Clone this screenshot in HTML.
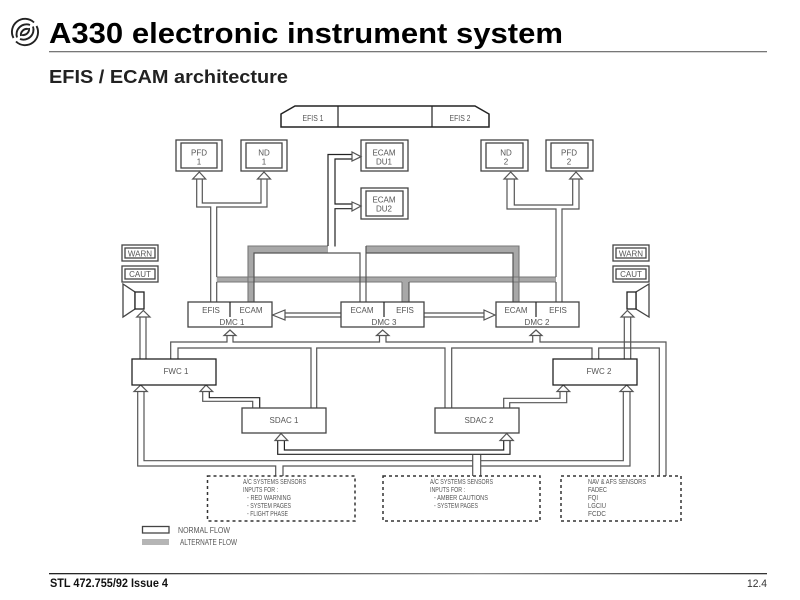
<!DOCTYPE html>
<html><head><meta charset="utf-8"><title>A330 electronic instrument system</title>
<style>
html,body{margin:0;padding:0;background:#fff;width:800px;height:600px;overflow:hidden}
svg{display:block;filter:blur(0.35px)}
text{font-family:"Liberation Sans",sans-serif}
.l{fill:none;stroke:#555;stroke-width:1.2}
.k{fill:none;stroke:#222;stroke-width:1.2}
.e{fill:none;stroke:#777;stroke-width:1.1}
.b{fill:#fff;stroke:#444;stroke-width:1.3}
.h{fill:#fff;stroke:#555;stroke-width:1.2}
.t{font-size:8px;fill:#555;text-anchor:middle}
.s{font-size:7px;fill:#555}
</style></head><body>
<svg width="800" height="600" viewBox="0 0 800 600" xmlns="http://www.w3.org/2000/svg">
<defs><linearGradient id="g" x1="0" x2="1" y1="0" y2="0"><stop offset="0" stop-color="#222"/><stop offset="0.6" stop-color="#888"/><stop offset="1" stop-color="#333"/></linearGradient></defs>

<!-- logo -->
<g fill="none" stroke="#222" stroke-width="1.900">
<path d="M13.500 38A13 13 0 0 1 34 22.500"/>
<path d="M17 37.500A10 10 0 0 1 30 25"/>
<path d="M21 36A6 6 0 0 1 28 29"/>
<path d="M36.500 26A13 13 0 0 1 16 41.500"/>
<path d="M33 26.500A10 10 0 0 1 20 39"/>
<path d="M29 28A6 6 0 0 1 22 35"/>
</g>
<text x="49" y="43" font-size="29" font-weight="bold" fill="#000" textLength="514" lengthAdjust="spacingAndGlyphs">A330 electronic instrument system</text>
<rect x="49" y="51" width="718" height="1.300" fill="#777"/>
<text x="49" y="83" font-size="18" font-weight="bold" fill="#222" textLength="239" lengthAdjust="spacingAndGlyphs">EFIS / ECAM architecture</text>
<rect x="49" y="573" width="718" height="1.300" fill="url(#g)"/>
<text x="50" y="587" font-size="12" font-weight="bold" fill="#111" textLength="118" lengthAdjust="spacingAndGlyphs">STL 472.755/92 Issue 4</text>
<text x="747" y="587" font-size="11" fill="#333" textLength="20" lengthAdjust="spacingAndGlyphs">12.4</text>

<!-- EFIS panel -->
<path d="M281 114L295 106H475L489 114V127H281Z" fill="#fff" stroke="#222" stroke-width="1.500"/>
<path d="M338 106V127M432 106V127" class="k"/>
<text class="t" x="313" y="121" textLength="21" lengthAdjust="spacingAndGlyphs">EFIS 1</text>
<text class="t" x="460" y="121" textLength="21" lengthAdjust="spacingAndGlyphs">EFIS 2</text>

<!-- displays -->
<g class="b">
<rect x="176" y="140" width="46" height="31"/><rect x="181" y="143" width="36" height="25"/>
<rect x="241" y="140" width="46" height="31"/><rect x="246" y="143" width="36" height="25"/>
<rect x="361" y="140" width="47" height="31"/><rect x="366" y="143" width="37" height="25"/>
<rect x="361" y="188" width="47" height="31"/><rect x="366" y="191" width="37" height="25"/>
<rect x="481" y="140" width="47" height="31"/><rect x="486" y="143" width="37" height="25"/>
<rect x="546" y="140" width="47" height="31"/><rect x="551" y="143" width="37" height="25"/>
<rect x="122" y="245" width="36" height="16"/><rect x="125" y="248" width="30" height="10"/>
<rect x="122" y="266" width="36" height="16"/><rect x="125" y="269" width="30" height="10"/>
<rect x="613" y="245" width="36" height="16"/><rect x="616" y="248" width="30" height="10"/>
<rect x="613" y="266" width="36" height="16"/><rect x="616" y="269" width="30" height="10"/>
</g>
<g class="t">
<text x="199" y="155.500">PFD</text><text x="199" y="164.500">1</text>
<text x="264" y="155.500">ND</text><text x="264" y="164.500">1</text>
<text x="384" y="155.500">ECAM</text><text x="384" y="164.500">DU1</text>
<text x="384" y="202.500">ECAM</text><text x="384" y="211.500">DU2</text>
<text x="506" y="155.500">ND</text><text x="506" y="164.500">2</text>
<text x="569" y="155.500">PFD</text><text x="569" y="164.500">2</text>
<text x="140" y="256.500">WARN</text><text x="140" y="277">CAUT</text>
<text x="631" y="256.500">WARN</text><text x="631" y="277">CAUT</text>
</g>

<!-- speakers -->
<path d="M123 284L135 292V309L123 317Z" class="b"/>
<rect x="135" y="292" width="9" height="17" fill="#fff" stroke="#222" stroke-width="1.300"/>
<path d="M649 284L636 292V309L649 317Z" class="b"/>
<rect x="627" y="292" width="9" height="17" fill="#fff" stroke="#222" stroke-width="1.300"/>

<!-- grey buses -->
<g fill="#a8a8a8">
<rect x="216.700" y="277" width="339.300" height="5"/>
<path d="M248 246H328V253H254V302H248Z"/>
<path d="M366 246H519V302H513V253H366Z"/>
<rect x="402" y="282" width="7" height="20"/>
</g>
<path class="e" d="M216.700 277H556M216.700 282H402M409 282H556M402 282V302"/>
<path class="e" d="M248 302V246H328M366 246H519V302"/>
<path class="l" d="M409 282V302M254 302V253H360V302M366 246V302M366 253H513V302"/>

<!-- PFD/ND 1 group -->
<path class="l" d="M210.700 302V207H196.700V178M202.300 178V203H261V178M267 178V207H216.700V277M216.700 282V302"/>
<!-- PFD/ND 2 group -->
<path class="l" d="M556 277V209H507V178M514.300 178V205H572.700V178M579 178V209H562V302M556 282V302"/>
<!-- ECAM DU feed -->
<path class="k" d="M328 246V154.500H352M352 159H335V204H352M352 208.700H335V246.500"/>

<!-- DMC horizontal -->
<path class="l" d="M284 313H341M284 317H341M424 313H485M424 317H485"/>

<!-- lower connectors -->
<path class="l" d="M140 359V316M146 359V316"/>
<path class="l" d="M624.300 359V316M630.700 359V316"/>
<path class="l" d="M170.700 359V342H227V335M233 335V342H379.500V335M386 335V342H532.700V335M540 335V342H666V476"/>
<path class="l" d="M178 359V348H311V408"/>
<path class="l" d="M316.700 408V348H445V408M451.700 408V348H592V359M598.700 359V348H659.300V476"/>
<path class="l" d="M137.700 391V466H275.700V476M283 476V466H472.700M144 391V460.700H472.700M480.700 460.700H623.300V391M630 391V466H480.700"/>
<path class="l" d="M472.700 476V455M480.700 476V455"/>
<path class="k" d="M277.700 440V454.300H510V440M284.400 440V450H503.700V440"/>
<path class="l" d="M202.700 391V401.300H252.700V408"/>
<path class="k" d="M209.300 391V397.700H259.700V408"/>
<path class="l" d="M560 391V398.300H503.700V408M566.700 391V402.700H509.700V408"/>

<!-- arrowheads -->
<g class="h">
<path d="M199.300 172L192.700 179H205.700Z"/><path d="M264 172L257.500 179H270.500Z"/>
<path d="M510.700 172L504 179H517.300Z"/><path d="M576 172L569.700 179H582.300Z"/>
<path d="M361 156.700L352 152V161Z"/><path d="M361 206L352 202V211Z"/>
<path d="M272.500 315L285 310V320Z"/><path d="M495 315L484 310V320Z"/>
<path d="M230 330L224 335.500H236Z"/><path d="M382.700 330L376.500 335.500H389Z"/><path d="M536 330L530 335.500H542Z"/>
<path d="M143.300 310.500L136.700 317H150Z"/><path d="M627.300 310.500L621 317H634Z"/>
<path d="M140.700 385L134 391.500H147.300Z"/><path d="M206 385L200 391.500H212.700Z"/>
<path d="M563.300 385L557 391.500H569.700Z"/><path d="M626.700 385L620 391.500H633Z"/>
<path d="M281 433.500L275 440.500H287.700Z"/><path d="M506.700 433.500L500 440.500H513.300Z"/>
</g>

<!-- DMC / FWC / SDAC boxes -->
<g class="b">
<rect x="188" y="302" width="84" height="25"/>
<rect x="341" y="302" width="83" height="25"/>
<rect x="496" y="302" width="83" height="25"/>
<rect x="132" y="359" width="84" height="26" stroke="#222"/>
<rect x="553" y="359" width="84" height="26" stroke="#222"/>
<rect x="242" y="408" width="84" height="25"/>
<rect x="435" y="408" width="84" height="25"/>
</g>
<path class="k" d="M230 302V317M384 302V317M536 302V317"/>
<g class="t">
<text x="211" y="313">EFIS</text><text x="251" y="313">ECAM</text><text x="232" y="325">DMC 1</text>
<text x="362" y="313">ECAM</text><text x="405" y="313">EFIS</text><text x="384" y="325">DMC 3</text>
<text x="516" y="313">ECAM</text><text x="558" y="313">EFIS</text><text x="537" y="325">DMC 2</text>
<text x="176" y="374">FWC 1</text><text x="599" y="374">FWC 2</text>
<text x="284" y="423">SDAC 1</text><text x="479" y="423">SDAC 2</text>
</g>

<!-- sensor boxes -->
<g fill="#fff" stroke="#333" stroke-width="1.500" stroke-dasharray="3 3">
<rect x="207.500" y="476" width="147.500" height="45"/>
<rect x="383" y="476" width="157" height="45"/>
<rect x="561" y="476" width="120" height="45"/>
</g>
<g class="s">
<text x="243" y="484" textLength="63" lengthAdjust="spacingAndGlyphs">A/C SYSTEMS SENSORS</text>
<text x="243" y="492" textLength="35" lengthAdjust="spacingAndGlyphs">INPUTS FOR :</text>
<text x="247" y="500" textLength="44" lengthAdjust="spacingAndGlyphs">- RED WARNING</text>
<text x="247" y="508" textLength="44" lengthAdjust="spacingAndGlyphs">- SYSTEM PAGES</text>
<text x="247" y="516" textLength="41" lengthAdjust="spacingAndGlyphs">- FLIGHT PHASE</text>
<text x="430" y="484" textLength="63" lengthAdjust="spacingAndGlyphs">A/C SYSTEMS SENSORS</text>
<text x="430" y="492" textLength="35" lengthAdjust="spacingAndGlyphs">INPUTS FOR :</text>
<text x="434" y="500" textLength="54" lengthAdjust="spacingAndGlyphs">- AMBER CAUTIONS</text>
<text x="434" y="508" textLength="44" lengthAdjust="spacingAndGlyphs">- SYSTEM PAGES</text>
<text x="588" y="484" textLength="58" lengthAdjust="spacingAndGlyphs">NAV &amp; AFS SENSORS</text>
<text x="588" y="492" textLength="19" lengthAdjust="spacingAndGlyphs">FADEC</text>
<text x="588" y="500" textLength="10" lengthAdjust="spacingAndGlyphs">FQI</text>
<text x="588" y="508" textLength="18" lengthAdjust="spacingAndGlyphs">LGCIU</text>
<text x="588" y="516" textLength="18" lengthAdjust="spacingAndGlyphs">FCDC</text>
</g>

<!-- legend -->
<rect x="142.500" y="526.500" width="26.500" height="6.500" class="b"/>
<rect x="142" y="539" width="27" height="6" fill="#b5b5b5"/>
<text x="178" y="533" font-size="8" fill="#555" textLength="52" lengthAdjust="spacingAndGlyphs">NORMAL FLOW</text>
<text x="180" y="545" font-size="8" fill="#555" textLength="57" lengthAdjust="spacingAndGlyphs">ALTERNATE FLOW</text>
</svg>
</body></html>
